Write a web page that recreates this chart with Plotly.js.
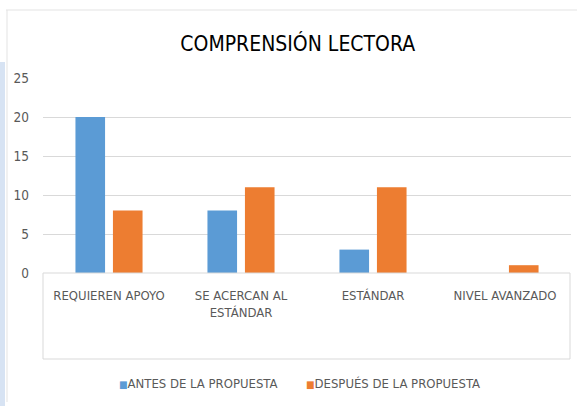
<!DOCTYPE html>
<html>
<head>
<meta charset="utf-8">
<script src="https://cdn.plot.ly/plotly-3.0.1.min.js"></script>
<style>
  html, body { margin: 0; padding: 0; background: #ffffff; }
  #chart { width: 577px; height: 408px; }
</style>
</head>
<body>
<div id="chart"></div>
<script>
const categories = ["REQUIEREN APOYO", "SE ACERCAN AL<br>ESTÁNDAR", "ESTÁNDAR", "NIVEL AVANZADO"];
const seriesNames = ["ANTES DE LA PROPUESTA", "DESPUÉS DE LA PROPUESTA"];
const seriesColors = ['#5B9BD5', '#ED7D31'];
const antes = [20, 8, 3, 0];
const despues = [8, 11, 11, 1];
const yTicks = [0, 5, 10, 15, 20, 25];

const FONT = '"Liberation Sans Narrow", "DejaVu Sans Condensed", "Roboto Condensed", Arial, sans-serif';
const TXT = '#595959';

// pixel -> paper helpers (plot area: x 43..571, y 78..273)
const L = 43, R = 571, T = 78, B = 273;
const px = x => (x - L) / (R - L);
const py = y => (B - y) / (B - T);

const traces = [
  { type: 'bar', name: seriesNames[0], x: categories, y: antes, showlegend: false,
    marker: { color: seriesColors[0], line: { width: 0 } } },
  { type: 'bar', name: seriesNames[1], x: categories, y: despues, showlegend: false,
    marker: { color: seriesColors[1], line: { width: 0 } } }
];

const legendItem = (i, xPix) => ({
  xref: 'paper', yref: 'paper', x: px(xPix), y: py(383), xanchor: 'left', yanchor: 'middle', showarrow: false,
  text: '<span style="color:' + seriesColors[i] + ';font-size:10px">■</span>' + seriesNames[i],
  font: { family: FONT, size: 13, color: TXT }
});

const lineStyle = { color: '#d9d9d9', width: 1 };
const layout = {
  width: 577, height: 408,
  margin: { l: L, r: 577 - R, t: T, b: 408 - B, pad: 0 },
  paper_bgcolor: '#ffffff', plot_bgcolor: '#ffffff',
  font: { family: FONT, color: TXT, size: 13 },
  title: { text: 'COMPRENSIÓN LECTORA', font: { family: FONT, size: 21, color: '#000000' },
           xref: 'container', x: 0.516, xanchor: 'center', yref: 'container', y: 1 - 44 / 408, yanchor: 'middle' },
  barmode: 'group', bargap: 0.432, bargroupgap: 0.21,
  showlegend: false,
  annotations: [legendItem(0, 117), legendItem(1, 304)],
  xaxis: { type: 'category', showgrid: false, zeroline: false, showline: false, ticks: '',
           tickfont: { family: FONT, size: 13, color: TXT }, ticklabelstandoff: 13, fixedrange: true },
  yaxis: { range: [0, 25], tickvals: yTicks, ticktext: yTicks.map(String), showgrid: true, gridcolor: '#d9d9d9', gridwidth: 1,
           zeroline: false, showline: false, ticks: '', tickfont: { family: FONT, size: 13.5, color: TXT },
           ticklabelstandoff: 13, fixedrange: true },
  shapes: [
    // frame around x-axis label area
    { type: 'line', xref: 'paper', yref: 'paper', x0: 0, x1: 0, y0: 0, y1: py(359), line: lineStyle, layer: 'below' },
    { type: 'line', xref: 'paper', yref: 'paper', x0: px(570), x1: px(570), y0: 0, y1: py(359), line: lineStyle, layer: 'below' },
    { type: 'line', xref: 'paper', yref: 'paper', x0: 0, x1: px(570), y0: py(359), y1: py(359), line: lineStyle, layer: 'below' },
    { type: 'line', xref: 'paper', yref: 'paper', x0: 0, x1: px(570), y0: 0, y1: 0, line: lineStyle, layer: 'above' },
    // outer chart frame
    { type: 'line', xref: 'paper', yref: 'paper', x0: px(6), x1: px(577), y0: py(10), y1: py(10), line: { color: '#e3e3e3', width: 1.2 } },
    { type: 'line', xref: 'paper', yref: 'paper', x0: px(7), x1: px(7), y0: py(10), y1: py(402), line: { color: '#e3e3e3', width: 1 } },
    // light blue strip on the left edge
    { type: 'rect', xref: 'paper', yref: 'paper', x0: px(0), x1: px(5), y0: py(62), y1: py(406), fillcolor: '#d7e3f3', line: { width: 0 } }
  ]
};

Plotly.newPlot('chart', traces, layout, { displayModeBar: false, staticPlot: true });
</script>
</body>
</html>
